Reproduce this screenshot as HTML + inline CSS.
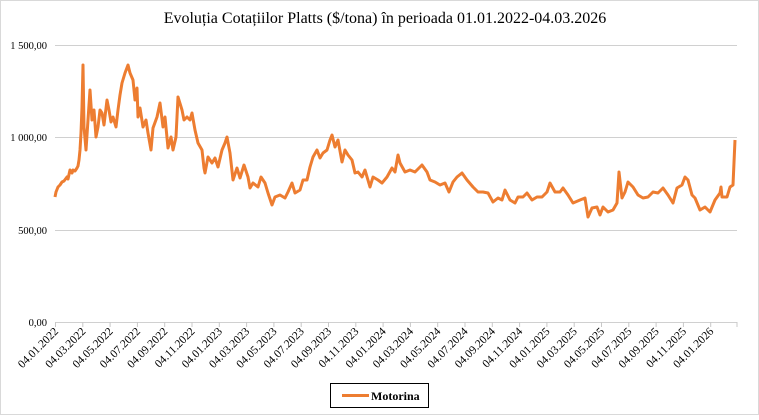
<!DOCTYPE html>
<html><head><meta charset="utf-8"><style>
body{margin:0;background:#fff}
svg text{font-family:"Liberation Serif",serif;fill:#000}
</style></head><body>
<svg width="759" height="415" xmlns="http://www.w3.org/2000/svg">
<rect x="0.5" y="0.5" width="758" height="414" fill="#fff" stroke="#d9d9d9"/>
<text x="385" y="23" font-size="16" text-anchor="middle">Evoluția  Cotațiilor  Platts  ($/tona)  în perioada 01.01.2022-04.03.2026</text>
<g stroke="#d0d0d0" stroke-width="1">
<line x1="55" y1="45.5" x2="737" y2="45.5"/>
<line x1="55" y1="137.5" x2="737" y2="137.5"/>
<line x1="55" y1="230.5" x2="737" y2="230.5"/>
<line x1="55" y1="322.5" x2="737" y2="322.5"/>
</g>
<g font-size="10.5" text-anchor="end">
<text x="47" y="49">1 500,00</text>
<text x="47" y="141">1 000,00</text>
<text x="47" y="234">500,00</text>
<text x="47" y="326">0,00</text>
</g>
<g stroke="#c8c8c8">
<line x1="55.5" y1="322" x2="55.5" y2="327"/><line x1="82.8" y1="322" x2="82.8" y2="327"/><line x1="110.1" y1="322" x2="110.1" y2="327"/><line x1="137.4" y1="322" x2="137.4" y2="327"/><line x1="164.7" y1="322" x2="164.7" y2="327"/><line x1="192" y1="322" x2="192" y2="327"/><line x1="219.3" y1="322" x2="219.3" y2="327"/><line x1="246.6" y1="322" x2="246.6" y2="327"/><line x1="273.9" y1="322" x2="273.9" y2="327"/><line x1="301.2" y1="322" x2="301.2" y2="327"/><line x1="328.5" y1="322" x2="328.5" y2="327"/><line x1="355.8" y1="322" x2="355.8" y2="327"/><line x1="383.1" y1="322" x2="383.1" y2="327"/><line x1="410.4" y1="322" x2="410.4" y2="327"/><line x1="437.7" y1="322" x2="437.7" y2="327"/><line x1="465" y1="322" x2="465" y2="327"/><line x1="492.3" y1="322" x2="492.3" y2="327"/><line x1="519.6" y1="322" x2="519.6" y2="327"/><line x1="546.9" y1="322" x2="546.9" y2="327"/><line x1="574.2" y1="322" x2="574.2" y2="327"/><line x1="601.5" y1="322" x2="601.5" y2="327"/><line x1="628.8" y1="322" x2="628.8" y2="327"/><line x1="656.1" y1="322" x2="656.1" y2="327"/><line x1="683.4" y1="322" x2="683.4" y2="327"/><line x1="710.7" y1="322" x2="710.7" y2="327"/><line x1="737" y1="322" x2="737" y2="327"/>
</g>
<g font-size="11.5" text-anchor="end">
<text transform="translate(59,332) rotate(-45)">04.01.2022</text>
<text transform="translate(86.3,332) rotate(-45)">04.03.2022</text>
<text transform="translate(113.6,332) rotate(-45)">04.05.2022</text>
<text transform="translate(140.9,332) rotate(-45)">04.07.2022</text>
<text transform="translate(168.2,332) rotate(-45)">04.09.2022</text>
<text transform="translate(195.5,332) rotate(-45)">04.11.2022</text>
<text transform="translate(222.8,332) rotate(-45)">04.01.2023</text>
<text transform="translate(250.1,332) rotate(-45)">04.03.2023</text>
<text transform="translate(277.4,332) rotate(-45)">04.05.2023</text>
<text transform="translate(304.7,332) rotate(-45)">04.07.2023</text>
<text transform="translate(332,332) rotate(-45)">04.09.2023</text>
<text transform="translate(359.3,332) rotate(-45)">04.11.2023</text>
<text transform="translate(386.6,332) rotate(-45)">04.01.2024</text>
<text transform="translate(413.9,332) rotate(-45)">04.03.2024</text>
<text transform="translate(441.2,332) rotate(-45)">04.05.2024</text>
<text transform="translate(468.5,332) rotate(-45)">04.07.2024</text>
<text transform="translate(495.8,332) rotate(-45)">04.09.2024</text>
<text transform="translate(523.1,332) rotate(-45)">04.11.2024</text>
<text transform="translate(550.4,332) rotate(-45)">04.01.2025</text>
<text transform="translate(577.7,332) rotate(-45)">04.03.2025</text>
<text transform="translate(605,332) rotate(-45)">04.05.2025</text>
<text transform="translate(632.3,332) rotate(-45)">04.07.2025</text>
<text transform="translate(659.6,332) rotate(-45)">04.09.2025</text>
<text transform="translate(686.9,332) rotate(-45)">04.11.2025</text>
<text transform="translate(714.2,332) rotate(-45)">04.01.2026</text>
</g>
<polyline fill="none" stroke="#ED7D31" stroke-width="3" stroke-linejoin="round" points="55,197 56,192 58,187 60,185 62,182 64,181 67,177 68,179 70,170 72,173 73,170 75,171 77,168 78,166 79,160 80,150 81,133 82,107 83,65 84,127 86,150 88,120 90,90 92,120 94,110 96,137 98,127 100,110 102,113 104,125 107,100 109,110 111,122 113,117 116,127 118,110 120,95 122,83 125,73 128,65 130,73 133,80 135,100 137,88 138,117 140,108 143,127 146,120 148,133 151,150 153,128 157,117 160,103 163,127 165,117 168,148 171,137 173,150 176,137 178,97 182,110 184,120 187,117 190,120 192,113 195,130 198,143 202,150 204,168 205,173 208,157 212,163 215,158 218,167 222,150 225,143 227,137 230,153 233,180 237,168 240,178 244,165 248,177 250,188 253,183 258,187 261,177 265,183 268,193 272,205 275,197 280,195 285,198 288,192 292,183 295,193 300,190 303,180 307,180 310,167 313,157 317,150 320,158 323,153 327,150 330,140 332,135 335,147 338,140 342,162 345,150 348,155 352,160 355,173 358,172 362,177 365,170 370,187 373,177 378,180 382,183 387,177 392,168 395,172 398,155 400,163 405,172 410,170 415,172 422,165 427,172 430,180 435,182 440,185 445,183 449,192 453,182 457,177 462,173 467,180 473,187 478,192 483,192 488,193 493,202 498,198 502,200 505,190 510,200 515,203 518,197 523,197 527,193 532,200 537,197 542,197 547,192 550,183 555,192 560,192 563,188 568,195 573,203 580,200 585,198 588,217 592,208 597,207 600,215 603,207 608,212 613,210 617,203 619,172 622,198 625,192 628,182 633,187 638,195 643,198 648,197 653,192 658,193 663,188 668,195 673,203 677,188 682,185 685,177 688,180 692,195 695,198 700,210 705,207 710,212 715,200 720,193 721,187 722,197 727,197 730,187 733,185 735,140"/>
<rect x="330.5" y="383.5" width="98" height="24" fill="#fff" stroke="#000"/>
<line x1="342" y1="395.5" x2="369" y2="395.5" stroke="#ED7D31" stroke-width="3"/>
<text x="371" y="400" font-size="12" font-weight="bold">Motorina</text>
</svg>
</body></html>
